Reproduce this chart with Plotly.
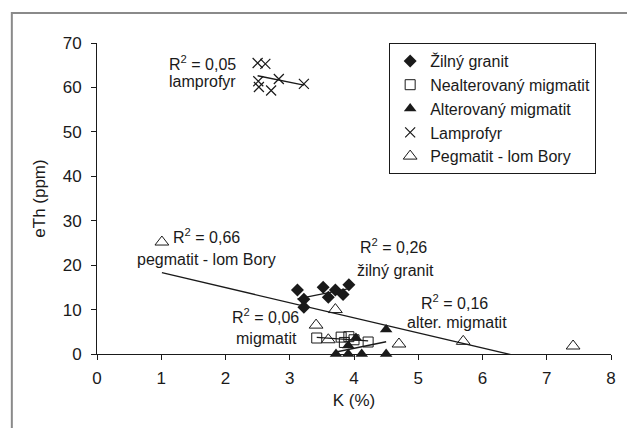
import numpy as np
import plotly.graph_objects as go

# --- data ---
zil_k = [3.12, 3.22, 3.22, 3.52, 3.60, 3.71, 3.83, 3.92]
zil_th = [14.4, 12.3, 10.5, 15.0, 12.8, 14.4, 13.4, 15.6]

neal_k = [3.42, 3.80, 3.85, 3.92, 4.00, 4.22]
neal_th = [3.6, 3.8, 2.6, 3.9, 3.2, 2.7]

alt_k = [3.72, 3.91, 3.91, 4.03, 4.12, 4.50, 4.50]
alt_th = [0.0, 0.0, 1.9, 3.6, 0.0, 0.0, 5.5]

lam_k = [2.50, 2.62, 2.51, 2.52, 2.71, 2.83, 3.22]
lam_th = [65.5, 65.3, 61.4, 60.1, 59.3, 61.9, 60.8]

peg_k = [1.01, 3.41, 3.60, 3.71, 4.70, 5.70, 7.41]
peg_th = [25.2, 6.5, 3.2, 10.0, 2.25, 2.85, 1.8]

x_ticks = [0, 1, 2, 3, 4, 5, 6, 7, 8]
y_ticks = [0, 10, 20, 30, 40, 50, 60, 70]

FONT = "Liberation Sans, Arial, sans-serif"
INK = "#1a1a1a"

fig = go.Figure()

def trend(xs, ys):
    a, b = np.polyfit(xs, ys, 1)
    xx = np.array([min(xs), max(xs)])
    return xx, a * xx + b

series = [
    ("Žilný granit", zil_k, zil_th, dict(symbol="diamond", size=10, color=INK)),
    ("Nealterovaný migmatit", neal_k, neal_th,
     dict(symbol="square-open", size=10, color=INK, line=dict(width=1))),
    ("Alterovaný migmatit", alt_k, alt_th, dict(symbol="triangle-up", size=11, color=INK)),
    ("Lamprofyr", lam_k, lam_th,
     dict(symbol="x-thin-open", size=10, color=INK, line=dict(width=1.2, color=INK))),
    ("Pegmatit - lom Bory", peg_k, peg_th,
     dict(symbol="triangle-up-open", size=12, color=INK, line=dict(width=1))),
]

for name, xs, ys, mk in series:
    tx, ty = trend(xs, ys)
    fig.add_trace(go.Scatter(x=tx, y=ty, mode="lines", line=dict(color=INK, width=1.3),
                             showlegend=False, hoverinfo="skip"))

for name, xs, ys, mk in series:
    fig.add_trace(go.Scatter(x=xs, y=ys, mode="markers", name=name, marker=mk,
                             cliponaxis=False))

labels = [
    ("R<sup>2</sup> = 0,05", 2.20, 65.5, "right"),
    ("lamprofyr", 2.20, 61.3, "right"),
    ("R<sup>2</sup> = 0,66", 1.71, 26.5, "center"),
    ("pegmatit - lom Bory", 1.70, 21.2, "center"),
    ("R<sup>2</sup> = 0,06", 2.63, 8.5, "center"),
    ("migmatit", 2.64, 3.4, "center"),
    ("R<sup>2</sup> = 0,26", 4.61, 24.3, "center"),
    ("žilný granit", 4.65, 18.9, "center"),
    ("R<sup>2</sup> = 0,16", 5.57, 11.7, "center"),
    ("alter. migmatit", 5.60, 7.0, "center"),
]
for txt, x, y, anc in labels:
    fig.add_annotation(x=x, y=y, text=txt, showarrow=False, xanchor=anc, yanchor="middle",
                       font=dict(family=FONT, size=16, color=INK))

W, H = 627, 428
L, R, T, B = 97, 11, 43, 74
pw, ph = W - L - R, H - T - B
# outer grey frame (top and left edges visible)
fig.add_shape(type="rect", xref="paper", yref="paper",
              x0=(11 - L) / pw, x1=(W + 20 - L) / pw,
              y0=(H - B - (H + 20)) / ph, y1=(H - B - 13) / ph,
              line=dict(color="#8a8a8a", width=2), fillcolor="rgba(0,0,0,0)", layer="below")

axis_common = dict(showgrid=False, zeroline=False, showline=True, linecolor=INK, linewidth=1,
                   ticks="outside", ticklen=5, tickcolor=INK, tickwidth=1,
                   tickfont=dict(family=FONT, size=17, color=INK),
                   title_font=dict(family=FONT, size=17, color=INK))

fig.update_layout(
    width=W, height=H,
    margin=dict(l=L, r=R, t=T, b=B),
    paper_bgcolor="white", plot_bgcolor="white",
    xaxis=dict(range=[0, 8], tickvals=x_ticks, ticklabelstandoff=4,
               title=dict(text="K (%)", standoff=6), **axis_common),
    yaxis=dict(range=[0, 70], tickvals=y_ticks, ticklabelstandoff=6,
               title=dict(text="eTh (ppm)", standoff=12), **axis_common),
    legend=dict(x=(392 - L) / pw, y=1.0, xanchor="left", yanchor="top",
                bordercolor=INK, borderwidth=1, bgcolor="white",
                font=dict(family=FONT, size=16, color=INK), tracegroupgap=0),
    showlegend=True,
)

fig.write_html("out.html")
